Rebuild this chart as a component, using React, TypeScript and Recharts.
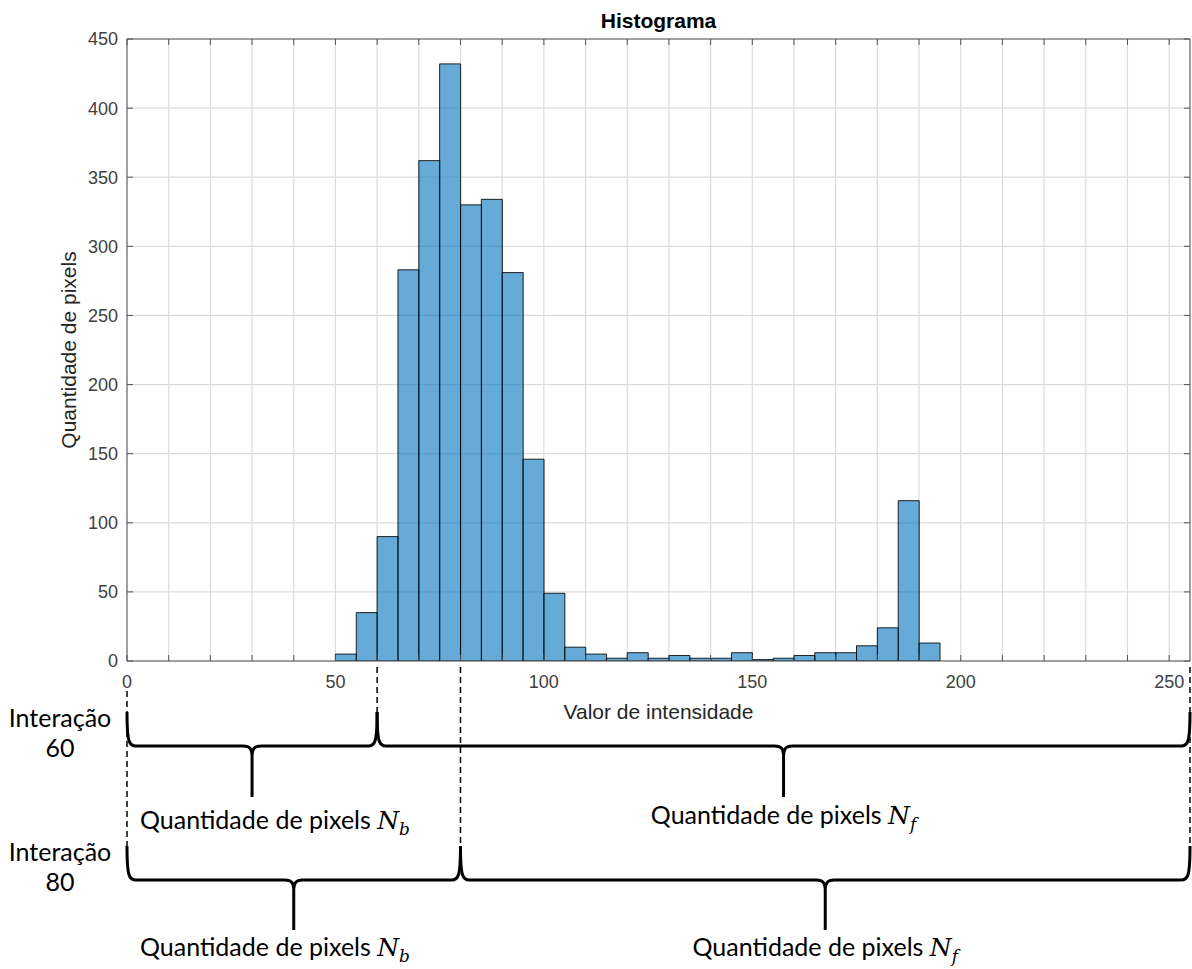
import { BarChart, Bar, XAxis, YAxis, CartesianGrid, ReferenceLine } from "recharts";

// histogram counts, one per 5-wide bin starting at 0 (0..250)
const BIN_WIDTH = 5;
const COUNTS = [
  0, 0, 0, 0, 0, 0, 0, 0, 0, 0,
  5, 35, 90, 283, 362, 432, 330, 334, 281, 146,
  49, 10, 5, 2, 6, 2, 4, 2, 2, 6,
  1, 2, 4, 6, 6, 11, 24, 116, 13, 0,
  0, 0, 0, 0, 0, 0, 0, 0, 0, 0, 0,
];
const X_MAX = 255;
const X_TICKS = [0, 10, 20, 30, 40, 50, 60, 70, 80, 90, 100, 110, 120, 130, 140, 150, 160, 170, 180, 190, 200, 210, 220, 230, 240, 250];
const X_LABELED = [0, 50, 100, 150, 200, 250];
const Y_TICKS = [0, 50, 100, 150, 200, 250, 300, 350, 400, 450];
const THRESHOLDS = [60, 80];

const TITLE = "Histograma";
const X_LABEL = "Valor de intensidade";
const Y_LABEL = "Quantidade de pixels";
const ITER_LABEL = "Interação";
const COUNT_LABEL = "Quantidade de pixels ";
const SUB_BACK = "b";
const SUB_FRONT = "f";

const data = COUNTS.map((count, i) => ({ bin: i * BIN_WIDTH, count }));

const AXIS_FONT = "'Liberation Sans', Arial, Helvetica, sans-serif";
const NOTE_FONT = "Lato, 'Open Sans', sans-serif";
const MATH_FONT = "'DejaVu Serif', 'Liberation Serif', serif";

// pixel offsets below the x axis for each brace row
const ROWS = [
  { line: 85, top: 51, tip: 136, labelL: 168, labelR: 163, iter: 66, num: 96 },
  { line: 219, top: 185, tip: 269, labelL: 295, labelR: 295, iter: 200, num: 230 },
];

function braceD(xa: number, xb: number, yLine: number, yTop: number, yTip: number) {
  const cx = (xa + xb) / 2;
  const r = 9;
  return [
    `M ${xa} ${yTop}`,
    `C ${xa} ${yLine - 4} ${xa + 2} ${yLine} ${xa + r} ${yLine}`,
    `L ${cx - r} ${yLine}`,
    `C ${cx - 2} ${yLine} ${cx} ${yLine + 3} ${cx} ${yLine + r + 2}`,
    `L ${cx} ${yTip}`,
    `M ${cx} ${yLine + r + 2}`,
    `C ${cx} ${yLine + 3} ${cx + 2} ${yLine} ${cx + r} ${yLine}`,
    `L ${xb - r} ${yLine}`,
    `C ${xb - 2} ${yLine} ${xb} ${yLine - 4} ${xb} ${yTop}`,
  ].join(" ");
}

type Dash = { at: "start" | "end"; from: number };

function makeBrace(row: number, side: "left" | "right", iteration: number, dashes: Dash[]) {
  const g = ROWS[row];
  return (p: any) => {
    const { x1, x2, y1 } = p;
    const cx = (x1 + x2) / 2;
    const yTop = y1 + g.top;
    const labelX = side === "left" ? x1 + 13 : cx;
    const labelY = y1 + (side === "left" ? g.labelL : g.labelR);
    return (
      <g>
        {dashes.map((d, i) => {
          const x = d.at === "start" ? x1 : x2;
          return (
            <line key={i} x1={x} x2={x} y1={y1 + d.from} y2={yTop} stroke="#000" strokeWidth={1.5} strokeDasharray="6 4" />
          );
        })}
        <path d={braceD(x1, x2, y1 + g.line, yTop, y1 + g.tip)} fill="none" stroke="#000" strokeWidth={3} />
        <text x={labelX} y={labelY} textAnchor={side === "left" ? "start" : "middle"} fontFamily={NOTE_FONT} fontSize={25} fill="#000">
          {COUNT_LABEL}
          <tspan fontFamily={MATH_FONT} fontStyle="italic">N</tspan>
          <tspan fontFamily={MATH_FONT} fontStyle="italic" fontSize={17} dy={6}>
            {side === "left" ? SUB_BACK : SUB_FRONT}
          </tspan>
        </text>
        {side === "left" && (
          <g fontFamily={NOTE_FONT} fontSize={25} fill="#000" textAnchor="middle">
            <text x={x1 - 67} y={y1 + g.iter}>{ITER_LABEL}</text>
            <text x={x1 - 67} y={y1 + g.num}>{iteration}</text>
          </g>
        )}
      </g>
    );
  };
}

const tickStyle = { fill: "#404040", fontSize: 18, fontFamily: AXIS_FONT };

export default function App() {
  return (
    <div style={{ position: "absolute", left: 0, top: 0, background: "#fff" }}>
      <BarChart
        width={1192}
        height={969}
        data={data}
        margin={{ top: 0, right: 0, bottom: 250, left: 11 }}
        barCategoryGap={0}
        barGap={0}
      >
        <XAxis xAxisId="bins" dataKey="bin" type="category" height={0} hide />
        <XAxis
          xAxisId="num"
          dataKey="bin"
          type="number"
          domain={[0, X_MAX]}
          allowDataOverflow
          ticks={X_TICKS}
          interval={0}
          height={58}
          tickSize={-6}
          tickMargin={20}
          stroke="#555"
          tick={tickStyle}
          tickFormatter={(v: number) => (X_LABELED.includes(v) ? String(v) : "")}
          label={{ value: X_LABEL, position: "insideBottom", offset: 0, fill: "#262626", fontSize: 21, fontFamily: AXIS_FONT }}
        />
        <XAxis
          xAxisId="top"
          dataKey="bin"
          orientation="top"
          type="number"
          domain={[0, X_MAX]}
          allowDataOverflow
          ticks={X_TICKS}
          interval={0}
          height={39}
          tickSize={-6}
          tickFormatter={() => ""}
          stroke="#555"
          label={{ value: TITLE, position: "insideBottom", offset: 11, fill: "#000", fontSize: 21, fontWeight: "bold", fontFamily: AXIS_FONT }}
        />
        <YAxis
          yAxisId="left"
          type="number"
          domain={[0, 450]}
          allowDataOverflow
          ticks={Y_TICKS}
          interval={0}
          width={116}
          tickSize={-6}
          tickMargin={15}
          stroke="#555"
          tick={tickStyle}
          label={{ value: Y_LABEL, angle: -90, position: "center", fill: "#262626", fontSize: 21, fontFamily: AXIS_FONT }}
        />
        <YAxis
          yAxisId="right"
          orientation="right"
          type="number"
          domain={[0, 450]}
          allowDataOverflow
          ticks={Y_TICKS}
          interval={0}
          width={2}
          tickSize={-6}
          tickFormatter={() => ""}
          stroke="#555"
        />
        <CartesianGrid xAxisId="num" yAxisId="left" stroke="#dcdcdc" strokeWidth={1.2} />
        <Bar
          xAxisId="bins"
          yAxisId="left"
          dataKey="count"
          fill="#0072BD"
          fillOpacity={0.6}
          stroke="#000"
          strokeOpacity={0.85}
          strokeWidth={1}
          isAnimationActive={false}
        />
        {THRESHOLDS.map((t, row) => (
          <ReferenceLine
            key={`l${t}`}
            xAxisId="num"
            yAxisId="left"
            segment={[{ x: 0, y: 0 }, { x: t, y: 0 }]}
            ifOverflow="visible"
            shape={makeBrace(
              row,
              "left",
              t,
              row === 0
                ? [{ at: "end", from: 6 }]
                : [{ at: "start", from: 30 }, { at: "end", from: 6 }]
            )}
          />
        ))}
        {THRESHOLDS.map((t, row) => (
          <ReferenceLine
            key={`r${t}`}
            xAxisId="num"
            yAxisId="left"
            segment={[{ x: t, y: 0 }, { x: X_MAX, y: 0 }]}
            ifOverflow="visible"
            shape={makeBrace(row, "right", t, row === 0 ? [] : [{ at: "end", from: 6 }])}
          />
        ))}
      </BarChart>
    </div>
  );
}
